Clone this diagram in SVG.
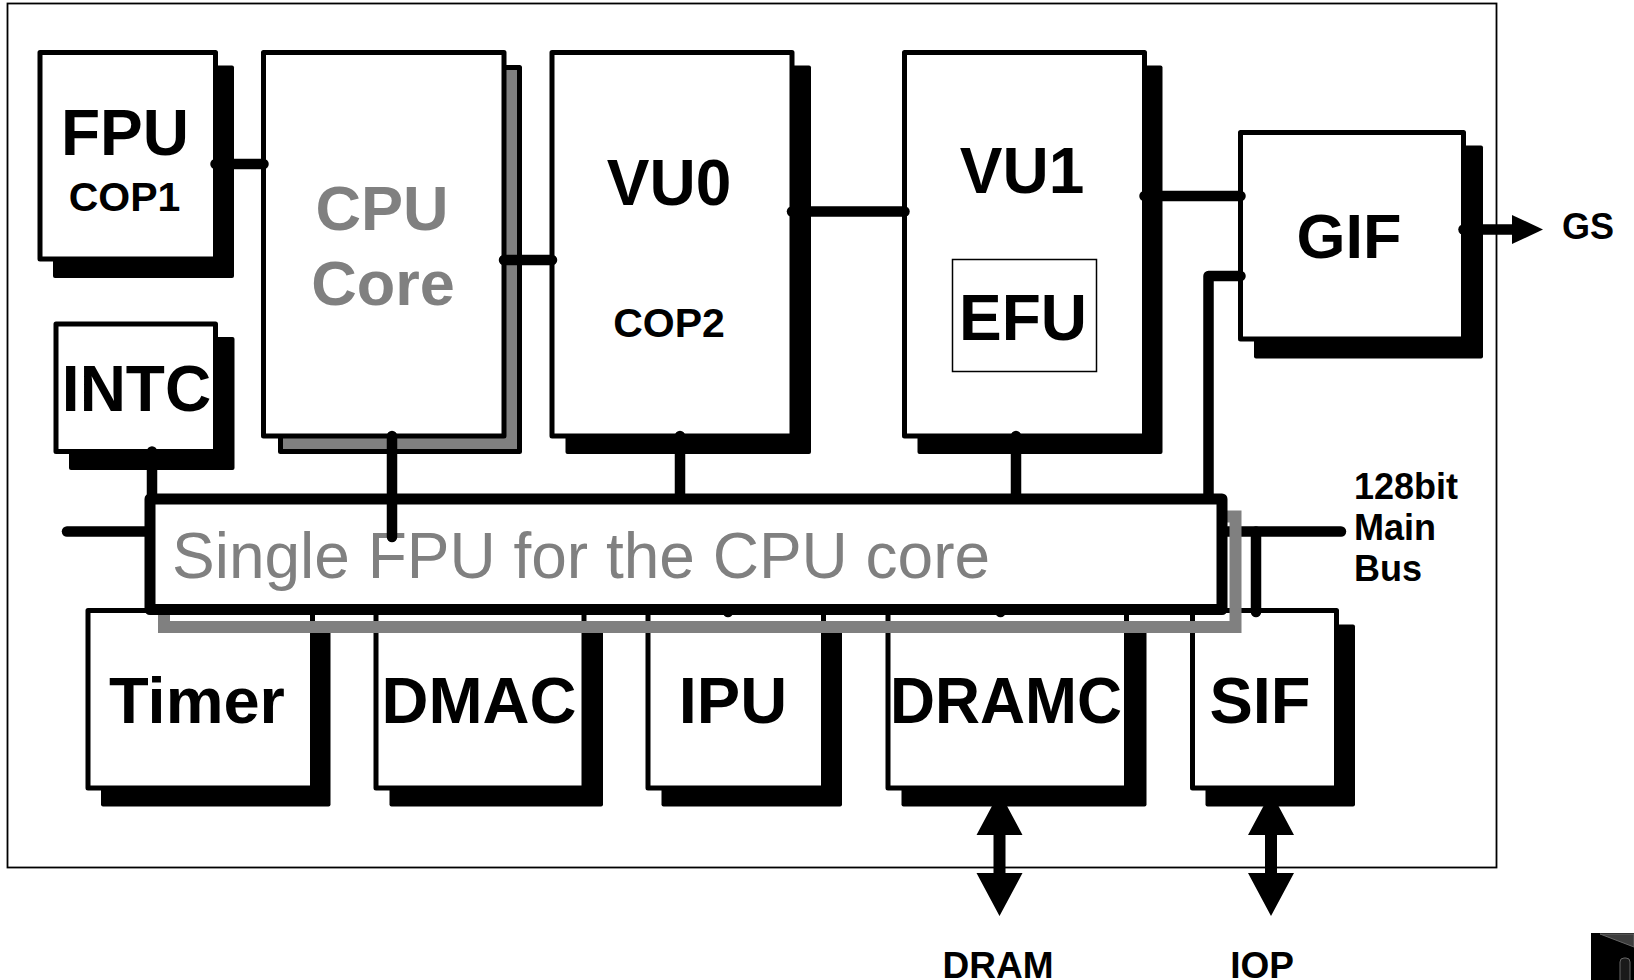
<svg xmlns="http://www.w3.org/2000/svg" width="1634" height="980" viewBox="0 0 1634 980">
<style>
.box{fill:#fff;stroke:#000;stroke-width:5;stroke-linejoin:round}
.sh{fill:#000}
.t{font-family:"Liberation Sans",Arial,sans-serif;font-weight:bold;text-anchor:middle;fill:#000}
.g{fill:#808080}
.c{stroke:#000;stroke-width:10.5;stroke-linecap:round;stroke-linejoin:round;fill:none}
.ar{fill:#000}
.lb{font-family:"Liberation Sans",Arial,sans-serif;font-weight:bold;font-size:36px;fill:#000}
</style>
<rect width="1634" height="980" fill="#fff"/>
<rect id="frame" x="7.5" y="3.5" width="1489" height="864" fill="none" stroke="#000" stroke-width="1.8"/>

<g id="main-bus-line">
<path class="c" d="M67,531.5 H1341"/>
</g>

<g id="ext-arrows">
<polygon class="ar" points="999.5,792 1022.5,835 1005.5,835 1005.5,873 1022.5,873 999.5,916 976.5,873 993.5,873 993.5,835 976.5,835"/>
<polygon class="ar" points="1271,792 1294,835 1277,835 1277,873 1294,873 1271,916 1248,873 1265,873 1265,835 1248,835"/>
</g>

<g id="FPU">
<rect class="sh" x="53" y="65.5" width="181" height="212.5" rx="2"/>
<rect class="box" x="40" y="52.5" width="175.5" height="206.5"/>
<text class="t" x="125" y="155" font-size="64">FPU</text>
<text class="t" x="124.5" y="211" font-size="41">COP1</text>
</g>

<g id="CPU">
<rect x="280.5" y="67.5" width="239" height="384" fill="#808080" stroke="#000" stroke-width="5" stroke-linejoin="round"/>
<rect class="box" x="263.5" y="52.5" width="240.5" height="383.5"/>
<text class="t g" x="382" y="230" font-size="63">CPU</text>
<text class="t g" x="383" y="305" font-size="63">Core</text>
</g>

<g id="INTC">
<rect class="sh" x="69" y="337" width="165.5" height="133" rx="2"/>
<rect class="box" x="56" y="324" width="159.5" height="127.5"/>
<text class="t" x="136.5" y="411" font-size="64">INTC</text>
</g>

<g id="VU0">
<rect class="sh" x="565.5" y="65.5" width="245.5" height="388.5" rx="2"/>
<rect class="box" x="552" y="52.5" width="240" height="383.5"/>
<text class="t" x="669" y="205" font-size="64">VU0</text>
<text class="t" x="669" y="337" font-size="41">COP2</text>
</g>

<g id="VU1">
<rect class="sh" x="917.5" y="65.5" width="245" height="388.5" rx="2"/>
<rect class="box" x="904.5" y="52.5" width="240" height="383.5"/>
<text class="t" x="1022" y="193" font-size="64">VU1</text>
<g id="EFU">
<rect x="952.5" y="259.5" width="144" height="112" fill="#fff" stroke="#000" stroke-width="1.5"/>
<text class="t" x="1023" y="340" font-size="64">EFU</text>
</g>
</g>

<g id="GIF">
<rect class="sh" x="1254" y="145.5" width="229" height="213" rx="2"/>
<rect class="box" x="1240.5" y="132.5" width="223" height="206.5"/>
<text class="t" x="1349" y="258" font-size="63">GIF</text>
</g>

<g id="Timer">
<rect class="sh" x="101" y="624.5" width="229.5" height="182" rx="2"/>
<rect class="box" x="88" y="610.5" width="224.5" height="177.5"/>
<text class="t" x="197" y="723" font-size="65">Timer</text>
</g>

<g id="DMAC">
<rect class="sh" x="389.5" y="624.5" width="213.5" height="182" rx="2"/>
<rect class="box" x="376" y="610.5" width="208" height="177.5"/>
<text class="t" x="479" y="723" font-size="65">DMAC</text>
</g>

<g id="IPU">
<rect class="sh" x="661.5" y="624.5" width="180.5" height="182" rx="2"/>
<rect class="box" x="648" y="610.5" width="175.5" height="177.5"/>
<text class="t" x="733" y="723" font-size="65">IPU</text>
</g>

<g id="DRAMC">
<rect class="sh" x="901.5" y="624.5" width="245" height="182" rx="2"/>
<rect class="box" x="888" y="610.5" width="238.5" height="177.5"/>
<text class="t" x="1006" y="723" font-size="65" textLength="232" lengthAdjust="spacingAndGlyphs">DRAMC</text>
</g>

<g id="SIF">
<rect class="sh" x="1205.5" y="624.5" width="149.5" height="182" rx="2"/>
<rect class="box" x="1192.5" y="610.5" width="144" height="177.5"/>
<text class="t" x="1260" y="723" font-size="65">SIF</text>
</g>

<g id="connectors">
<path class="c" d="M215.5,164 H263.5"/>
<path class="c" d="M504,260 H552"/>
<path class="c" d="M792,211.5 H904.5"/>
<path class="c" d="M1144.5,196 H1240.5"/>
<path class="c" d="M1240.5,276 H1208.5 V531.5"/>
<path class="c" d="M1463.5,229.5 H1514"/>
<polygon class="ar" points="1512,215 1543,229.5 1512,244"/>
<path class="c" d="M152,451.5 V531.5"/>
<path class="c" d="M680,436 V531.5"/>
<path class="c" d="M1016,436 V531.5"/>
<path class="c" d="M728,531.5 V612"/>
<path class="c" d="M1000.5,531.5 V612"/>
<path class="c" d="M1256,531.5 V612"/>
</g>

<g id="fpu-note">
<rect x="164" y="516.5" width="1071.5" height="110.5" fill="none" stroke="#808080" stroke-width="12"/>
<rect x="150" y="499" width="1072" height="110.5" fill="#fff" stroke="#000" stroke-width="11" stroke-linejoin="round"/>
<text x="172" y="578" font-family="'Liberation Sans',Arial,sans-serif" font-size="64" fill="#808080">Single FPU for the CPU core</text>
</g>

<g id="cpu-bus-link">
<path class="c" d="M392,436 V537" stroke-width="11"/>
</g>

<g id="labels">
<text class="lb" x="1354" y="499">128bit</text>
<text class="lb" x="1354" y="540">Main</text>
<text class="lb" x="1354" y="581">Bus</text>
<text class="lb" x="1562" y="239">GS</text>
<text class="t" x="998" y="978" font-size="37">DRAM</text>
<text class="t" x="1262" y="978" font-size="37">IOP</text>
</g>

<g id="corner-icon">
<rect x="1591" y="933" width="43" height="47" fill="#000"/>
<polygon points="1600,934 1634,934 1634,947" fill="#3c3c3c" stroke="#666" stroke-width="1"/>
<rect x="1620" y="958" width="10" height="26" rx="4" fill="#1a1a1a" stroke="#666" stroke-width="1"/>
</g>
</svg>
